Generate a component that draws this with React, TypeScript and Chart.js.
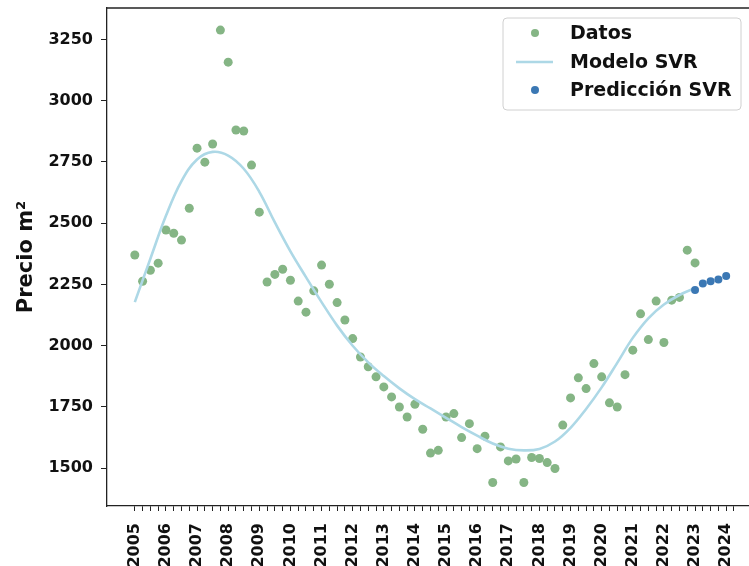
import React, { useEffect, useRef } from 'react';
import { Chart, registerables } from 'chart.js';

Chart.register(...registerables);

// ---- data ----
const startYear = 2005;
const quarterStep = 0.25;
const datos = [
  2370, 2263, 2308, 2337, 2472, 2459, 2431, 2561,
  2806, 2749, 2823, 3288, 3157, 2880, 2876, 2737,
  2545, 2260, 2291, 2312, 2267, 2182, 2137, 2224,
  2329, 2251, 2176, 2105, 2029, 1954, 1914, 1873,
  1832, 1791, 1750, 1709, 1761, 1659, 1562, 1573,
  1709, 1723, 1625, 1682, 1580, 1631, 1442, 1587,
  1530, 1538, 1442, 1544, 1540, 1523, 1499, 1676,
  1787, 1869, 1825, 1927, 1873, 1767, 1750, 1882,
  1982, 2130, 2025, 2182, 2013, 2186, 2197, 2390,
  2338,
];
const modelStep = 0.5;
const modelo = [
  2178, 2355, 2530, 2672, 2760, 2791, 2776, 2722,
  2628, 2503, 2385, 2280, 2178, 2082, 2000, 1932,
  1876, 1826, 1782, 1744, 1706, 1668, 1633, 1601,
  1580, 1573, 1579, 1609, 1665, 1742, 1830, 1930,
  2032, 2112, 2168, 2207, 2235,
];
const predStart = 2023;
const prediccion = [2227, 2254, 2263, 2270, 2284];
const yearLabels = [
  '2005', '2006', '2007', '2008', '2009', '2010', '2011', '2012', '2013', '2014',
  '2015', '2016', '2017', '2018', '2019', '2020', '2021', '2022', '2023', '2024',
];
const yTicks = [1500, 1750, 2000, 2250, 2500, 2750, 3000, 3250];
const legendLabels = ['Datos', 'Modelo SVR', 'Predicción SVR'];
const yTitle = 'Precio m²';

// ---- styles ----
const FONT = 'DejaVu Sans';
const GREEN = '#85b585';
const LINE = '#add8e6';
const BLUE = '#3b78b4';
const AXIS = '#222';
const CANVAS_W = 790;
const CANVAS_H = 566;

const frameAndLegend = {
  id: 'frameAndLegend',
  afterDraw(chart: any) {
    const { ctx, chartArea } = chart;
    ctx.save();
    // top spine
    ctx.strokeStyle = AXIS;
    ctx.lineWidth = 1.3;
    ctx.beginPath();
    ctx.moveTo(chartArea.left, chartArea.top);
    ctx.lineTo(chartArea.right, chartArea.top);
    ctx.stroke();

    // legend box
    const bx = 503, by = 18, bw = 238, bh = 92, r = 4;
    ctx.beginPath();
    ctx.moveTo(bx + r, by);
    ctx.lineTo(bx + bw - r, by);
    ctx.quadraticCurveTo(bx + bw, by, bx + bw, by + r);
    ctx.lineTo(bx + bw, by + bh - r);
    ctx.quadraticCurveTo(bx + bw, by + bh, bx + bw - r, by + bh);
    ctx.lineTo(bx + r, by + bh);
    ctx.quadraticCurveTo(bx, by + bh, bx, by + bh - r);
    ctx.lineTo(bx, by + r);
    ctx.quadraticCurveTo(bx, by, bx + r, by);
    ctx.closePath();
    ctx.fillStyle = 'rgba(255,255,255,0.85)';
    ctx.fill();
    ctx.strokeStyle = '#d0d0d0';
    ctx.lineWidth = 1;
    ctx.stroke();

    const rows = [33, 62, 90];
    // markers
    ctx.fillStyle = GREEN;
    ctx.beginPath();
    ctx.arc(535, rows[0], 4, 0, Math.PI * 2);
    ctx.fill();
    ctx.strokeStyle = LINE;
    ctx.lineWidth = 2.5;
    ctx.beginPath();
    ctx.moveTo(516, rows[1]);
    ctx.lineTo(553, rows[1]);
    ctx.stroke();
    ctx.fillStyle = BLUE;
    ctx.beginPath();
    ctx.arc(535, rows[2], 4, 0, Math.PI * 2);
    ctx.fill();

    ctx.fillStyle = '#111';
    ctx.font = `bold 19px "${FONT}"`;
    ctx.textAlign = 'left';
    ctx.textBaseline = 'middle';
    legendLabels.forEach((t, i) => ctx.fillText(t, 570, rows[i] + 1));
    ctx.restore();
  },
};

export default function App() {
  const ref = useRef<HTMLCanvasElement | null>(null);

  useEffect(() => {
    if (!ref.current) return;
    const pxPerYear = 31.33;
    const x2005 = 135;
    const xMin = startYear - (x2005 - 107) / pxPerYear;
    const xMax = startYear + (CANVAS_W - x2005) / pxPerYear;
    const yMin = 1346;
    const yMax = 3378;

    const lastYear = Number(yearLabels[yearLabels.length - 1]);
    const quarterTicks: number[] = [];
    for (let v = startYear; v <= lastYear + quarterStep + 1e-9; v += quarterStep) {
      quarterTicks.push(Math.round(v * 100) / 100);
    }

    const chart = new Chart(ref.current, {
      type: 'scatter',
      data: {
        datasets: [
          {
            label: legendLabels[0],
            data: datos.map((v, i) => ({ x: startYear + i * quarterStep, y: v })),
            backgroundColor: GREEN,
            borderColor: GREEN,
            pointRadius: 4.5,
            borderWidth: 0,
            order: 3,
          },
          {
            label: legendLabels[1],
            data: modelo.map((v, i) => ({ x: startYear + i * modelStep, y: v })),
            showLine: true,
            borderColor: LINE,
            backgroundColor: LINE,
            borderWidth: 2.6,
            pointRadius: 0,
            tension: 0.4,
            order: 2,
          } as any,
          {
            label: legendLabels[2],
            data: prediccion.map((v, i) => ({ x: predStart + i * quarterStep, y: v })),
            backgroundColor: BLUE,
            borderColor: BLUE,
            pointRadius: 4,
            borderWidth: 0,
            order: 1,
          },
        ],
      },
      options: {
        animation: false,
        responsive: false,
        maintainAspectRatio: false,
        devicePixelRatio: 1,
        layout: { padding: { top: 8, left: 0, right: 0, bottom: 0 } },
        plugins: {
          legend: { display: false },
          tooltip: { enabled: false },
        },
        scales: {
          x: {
            type: 'linear',
            min: xMin,
            max: xMax,
            afterBuildTicks: (scale: any) => {
              scale.ticks = quarterTicks.map((v) => ({ value: v }));
            },
            afterFit: (scale: any) => {
              scale.height = CANVAS_H - 506;
              scale.paddingLeft = 0;
              scale.paddingRight = 0;
            },
            ticks: {
              autoSkip: false,
              minRotation: 90,
              maxRotation: 90,
              padding: 12,
              color: '#111',
              font: { family: FONT, size: 16, weight: 'bold' },
              callback: (v: any) => {
                const idx = Math.round((Number(v) - startYear) * 1000) / 1000;
                return Number.isInteger(idx) && yearLabels[idx] ? yearLabels[idx] : '';
              },
            },
            grid: {
              drawOnChartArea: false,
              drawTicks: true,
              tickLength: 5,
              color: AXIS,
              lineWidth: 1,
            },
            border: { display: true, color: AXIS, width: 1.3 },
          },
          y: {
            type: 'linear',
            min: yMin,
            max: yMax,
            afterBuildTicks: (scale: any) => {
              scale.ticks = yTicks.map((v) => ({ value: v }));
            },
            afterFit: (scale: any) => {
              scale.width = 107;
              scale.paddingTop = 0;
              scale.paddingBottom = 0;
            },
            ticks: {
              padding: 8,
              color: '#111',
              font: { family: FONT, size: 16, weight: 'bold' },
              callback: (v: any) => String(v),
            },
            grid: {
              drawOnChartArea: false,
              drawTicks: true,
              tickLength: 6,
              color: AXIS,
              lineWidth: 1,
            },
            border: { display: true, color: AXIS, width: 1.3 },
            title: {
              display: true,
              text: yTitle,
              color: '#111',
              font: { family: FONT, size: 21, weight: 'bold' },
              padding: { top: 14, bottom: 0 },
            },
          },
        },
      },
      plugins: [frameAndLegend],
    } as any);

    return () => chart.destroy();
  }, []);

  return (
    <div
      style={{
        position: 'fixed',
        left: 0,
        top: 0,
        width: 749,
        height: 566,
        overflow: 'hidden',
        background: '#fff',
      }}
    >
      <canvas
        ref={ref}
        width={CANVAS_W}
        height={CANVAS_H}
        style={{ display: 'block', width: CANVAS_W, height: CANVAS_H }}
      />
    </div>
  );
}
